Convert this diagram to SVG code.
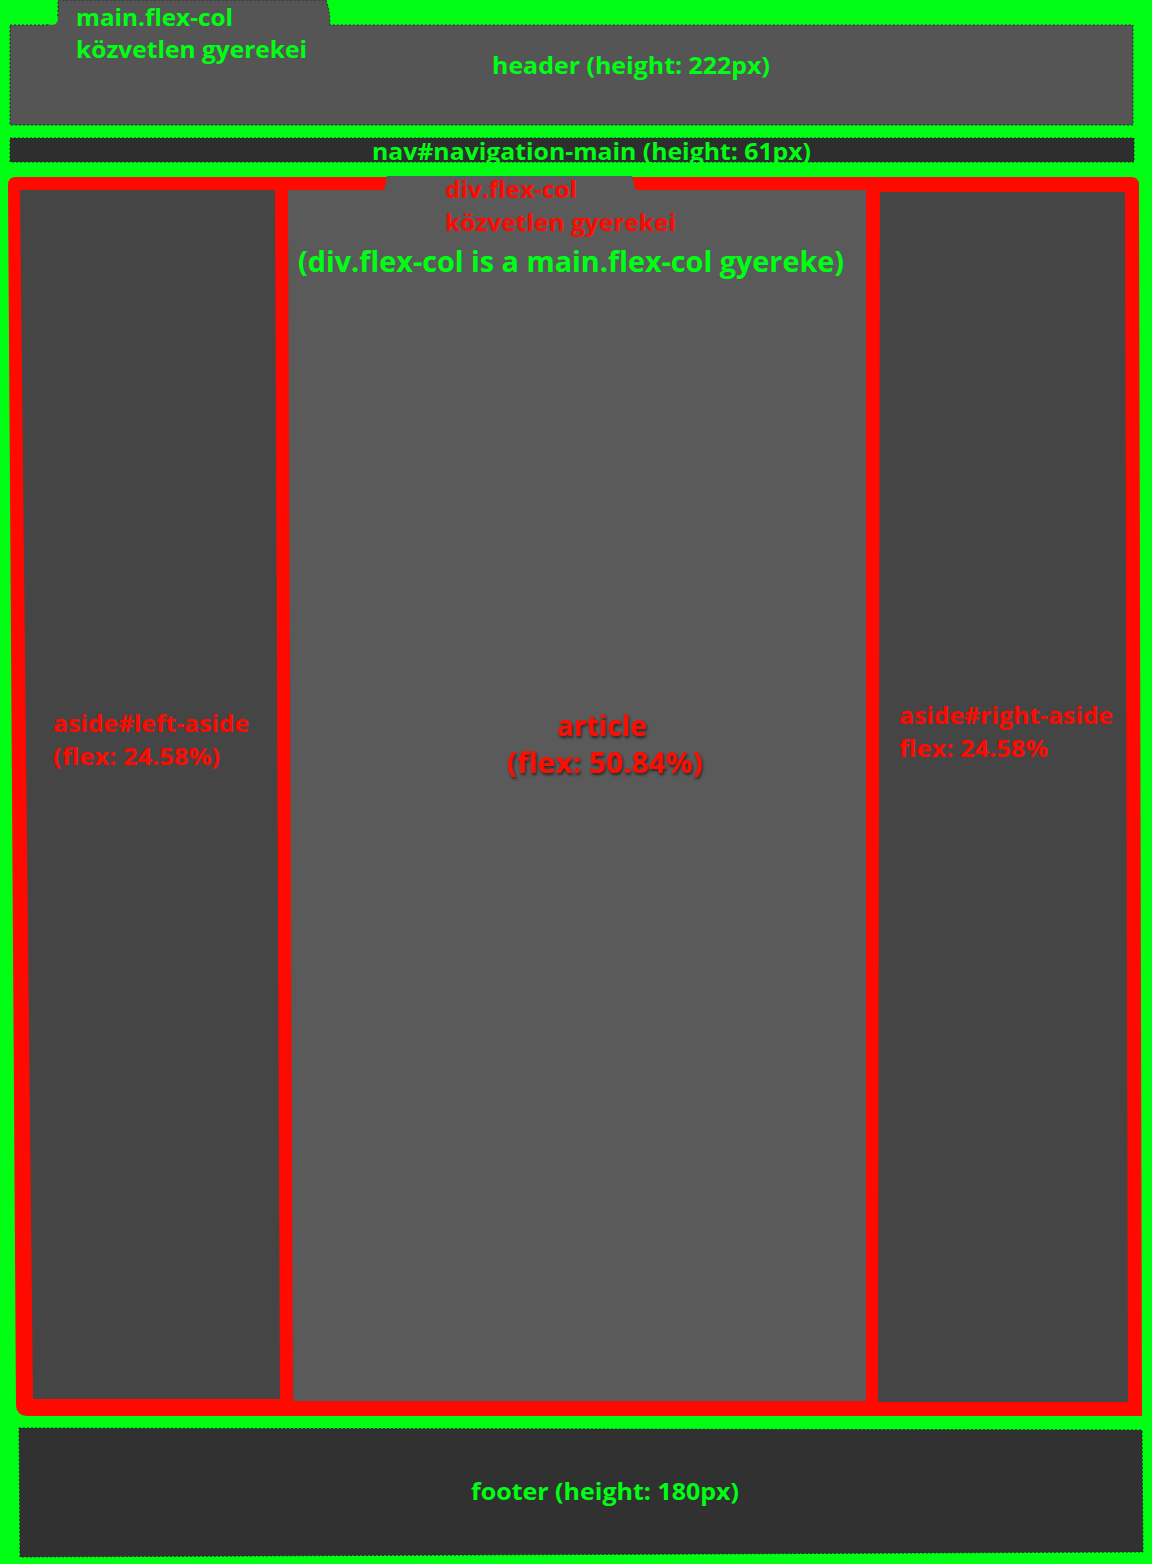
<svg xmlns="http://www.w3.org/2000/svg" width="1152" height="1564" viewBox="0 0 1152 1564">
<style>
.g{fill:#00ff14;font-family:"Open Sans","Liberation Sans",sans-serif;font-weight:700;font-size:24px}
.r{fill:#ff0a00;font-family:"Open Sans","Liberation Sans",sans-serif;font-weight:700;font-size:24px}
.edge{stroke:#2a2a2a;stroke-width:1;stroke-dasharray:2 2}
</style>
<defs>
<filter id="sh" x="-10%" y="-20%" width="130%" height="150%">
<feDropShadow dx="1" dy="2" stdDeviation="1.5" flood-color="#000" flood-opacity="0.6"/>
</filter>
</defs>
<rect width="1152" height="1564" fill="#00ff14"/>
<g id="header">
<path d="M10 25 H44 Q58 25 58 12 V0 H326 Q330 10 330 25 H1133 V125 H10 Z" fill="#555555" class="edge"/>
<circle cx="52" cy="19" r="6" fill="#00ff14"/>
<text class="g" x="76" y="26" textLength="157" lengthAdjust="spacingAndGlyphs">main.flex-col</text>
<text class="g" x="76" y="58" textLength="231" lengthAdjust="spacingAndGlyphs">közvetlen gyerekei</text>
<text class="g" x="492" y="74" textLength="278" lengthAdjust="spacingAndGlyphs">header (height: 222px)</text>
</g>
<g id="nav">
<rect x="10" y="138" width="1124" height="24" fill="#2e2e2e" class="edge"/>
<text class="g" x="372" y="160" textLength="439" lengthAdjust="spacingAndGlyphs">nav#navigation-main (height: 61px)</text>
</g>
<g id="div-flex-col">
<path d="M16 177 H1131 Q1139 177 1139 185 L1142 1416 H28 Q16 1416 16 1404 L8 185 Q8 177 16 177 Z" fill="#ff0a00"/>
<g id="left-aside">
<path d="M20 190 L275 190 L280 1399 L33 1399 Z" fill="#454545"/>
<text class="r" x="53" y="732" textLength="196" lengthAdjust="spacingAndGlyphs">aside#left-aside</text>
<text class="r" x="53" y="765" textLength="167" lengthAdjust="spacingAndGlyphs">(flex: 24.58%)</text>
</g>
<g id="article">
<path d="M288 190 L866 190 L866 1401 L293 1401 Z" fill="#5a5a5a"/>
<path d="M387 176 L384 191 H636 L632 176 Z" fill="#5a5a5a"/>
<text class="r" x="557" y="736" style="font-size:28px" filter="url(#sh)" textLength="90" lengthAdjust="spacingAndGlyphs">article</text>
<text class="r" x="507" y="773" style="font-size:28px" filter="url(#sh)" textLength="196" lengthAdjust="spacingAndGlyphs">(flex: 50.84%)</text>
</g>
<g id="right-aside">
<path d="M880 192 L1125 192 L1128 1402 L878 1402 Z" fill="#454545"/>
<text class="r" x="899" y="724" textLength="214" lengthAdjust="spacingAndGlyphs">aside#right-aside</text>
<text class="r" x="899" y="757" textLength="149" lengthAdjust="spacingAndGlyphs">flex: 24.58%</text>
</g>
<text class="r" x="445" y="198" textLength="132" lengthAdjust="spacingAndGlyphs">div.flex-col</text>
<text class="r" x="445" y="231" textLength="231" lengthAdjust="spacingAndGlyphs">közvetlen gyerekei</text>
<text class="g" x="298" y="272" style="font-size:29px" textLength="546" lengthAdjust="spacingAndGlyphs">(div.flex-col is a main.flex-col gyereke)</text>
</g>
<g id="footer">
<path d="M19 1428 L1142 1430 L1143 1552 L20 1557 Z" fill="#313131" class="edge"/>
<text class="g" x="471" y="1500" textLength="268" lengthAdjust="spacingAndGlyphs">footer (height: 180px)</text>
</g>
</svg>
